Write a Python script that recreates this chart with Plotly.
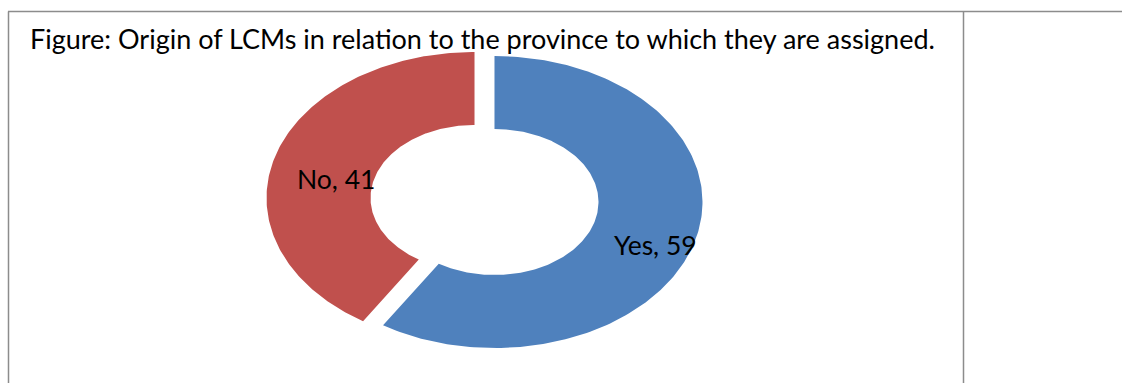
import numpy as np
import plotly.graph_objects as go

# Survey result: origin of LCMs relative to their assigned province
categories = ["Yes", "No"]
values = [59, 41]
colors = ["#4F81BD", "#C0504D"]
title_text = "Figure: Origin of LCMs in relation to the province to which they are assigned."

HOLE = 0.5       # inner radius as a fraction of the outer radius
PULL = 0.05      # explosion distance of each slice
LABEL_R = 0.75   # radius at which slice labels sit
FONT = "Lato"

W, H = 1122, 383
# ellipse centre and semi-axes in pixels; the axes ranges turn the unit ring into an ellipse
CX, CY, RX, RY = 484.5, 200.0, 208.0, 146.0
x_range = [-CX / RX, (W - CX) / RX]
y_range = [-(H - CY) / RY, CY / RY]

fig = go.Figure()
labels = []

total = float(sum(values))
start = 0.0
for cat, val, col in zip(categories, values, colors):
    sweep = 2 * np.pi * val / total
    a0, a1 = start, start + sweep
    mid = (a0 + a1) / 2
    ox, oy = PULL * np.sin(mid), PULL * np.cos(mid)
    t = np.linspace(a0, a1, 200)
    # outer arc clockwise from 12 o'clock, then inner arc back
    xs = np.concatenate([np.sin(t), HOLE * np.sin(t[::-1])]) + ox
    ys = np.concatenate([np.cos(t), HOLE * np.cos(t[::-1])]) + oy
    xs = np.append(xs, xs[0])
    ys = np.append(ys, ys[0])
    fig.add_trace(go.Scatter(
        x=xs, y=ys, mode="lines", fill="toself", fillcolor=col,
        line=dict(width=0, color=col), hoverinfo="skip", showlegend=False,
    ))
    labels.append(dict(
        x=ox + LABEL_R * np.sin(mid), y=oy + LABEL_R * np.cos(mid),
        xref="x", yref="y", text=f"{cat}, {val}", showarrow=False,
        xanchor="center", yanchor="middle", xshift=11, yshift=-12,
        font=dict(family=FONT, size=26.5, color="#000000"),
    ))
    start = a1

border = dict(color="#8c8c8c", width=1.5)
fig.update_layout(
    width=W, height=H,
    margin=dict(l=0, r=0, t=0, b=0),
    paper_bgcolor="white", plot_bgcolor="white",
    xaxis=dict(range=x_range, visible=False, fixedrange=True),
    yaxis=dict(range=y_range, visible=False, fixedrange=True),
    shapes=[
        dict(type="line", xref="paper", yref="paper", x0=8 / W, x1=1, y0=1 - 11.5 / H, y1=1 - 11.5 / H, line=border),
        dict(type="line", xref="paper", yref="paper", x0=8.5 / W, x1=8.5 / W, y0=0, y1=1 - 11.5 / H, line=border),
        dict(type="line", xref="paper", yref="paper", x0=963.5 / W, x1=963.5 / W, y0=0, y1=1 - 11.5 / H, line=border),
    ],
    annotations=[
        dict(text=title_text, xref="paper", yref="paper", x=28 / W, y=1 - 39 / H,
             xanchor="left", yanchor="middle", showarrow=False,
             font=dict(family=FONT, size=27, color="#000000")),
    ] + labels,
)

fig.write_html("out.html")
